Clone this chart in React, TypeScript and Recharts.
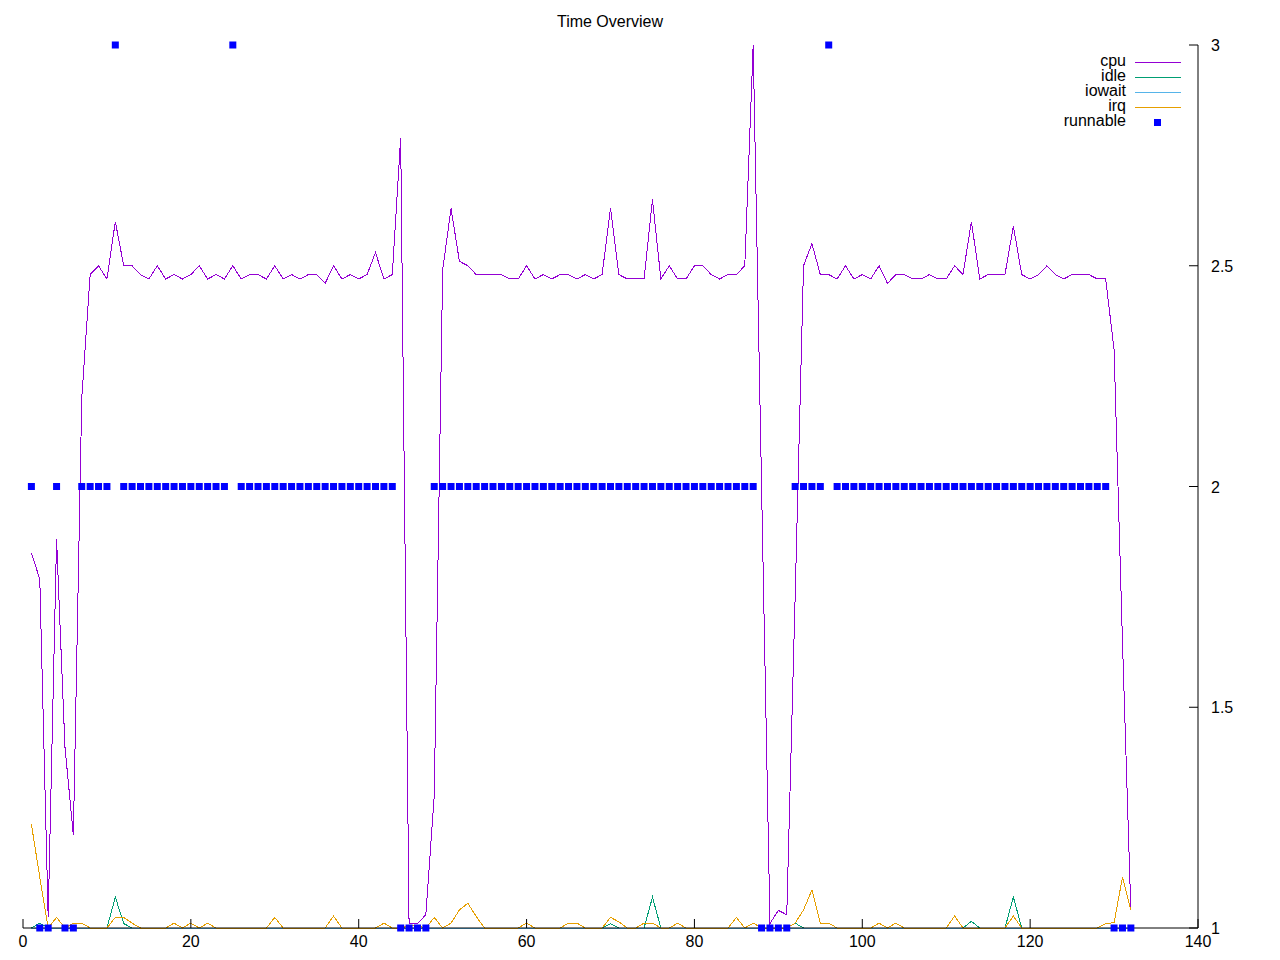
import { ComposedChart, Line, Scatter, XAxis, YAxis } from "recharts";

const FONT = "'Liberation Sans', Arial, sans-serif";

// sample values, one per time step starting at 1
const cpu = [
  1.85, 1.79, 1.025, 1.88, 1.41, 1.21, 2.2, 2.48, 2.5, 2.47,
  2.6, 2.5, 2.5, 2.48, 2.47, 2.5, 2.47, 2.48, 2.47, 2.48,
  2.5, 2.47, 2.48, 2.47, 2.5, 2.47, 2.48, 2.48, 2.47, 2.5,
  2.47, 2.48, 2.47, 2.48, 2.48, 2.46, 2.5, 2.47, 2.48, 2.47,
  2.48, 2.53, 2.47, 2.48, 2.79, 1.01, 1.01, 1.03, 1.3, 2.49,
  2.63, 2.51, 2.5, 2.48, 2.48, 2.48, 2.48, 2.47, 2.47, 2.5,
  2.47, 2.48, 2.47, 2.48, 2.48, 2.47, 2.48, 2.47, 2.48, 2.63,
  2.48, 2.47, 2.47, 2.47, 2.65, 2.47, 2.5, 2.47, 2.47, 2.5,
  2.5, 2.48, 2.47, 2.48, 2.48, 2.5, 3.0, 2.0, 1.01, 1.04,
  1.03, 1.75, 2.5, 2.55, 2.48, 2.48, 2.47, 2.5, 2.47, 2.48,
  2.47, 2.5, 2.46, 2.48, 2.48, 2.47, 2.47, 2.48, 2.47, 2.47,
  2.5, 2.48, 2.6, 2.47, 2.48, 2.48, 2.48, 2.59, 2.48, 2.47,
  2.48, 2.5, 2.48, 2.47, 2.48, 2.48, 2.48, 2.47, 2.47, 2.31,
  1.65, 1.04,
];

const idle = [
  1, 1.011, 1, 1, 1, 1, 1, 1, 1, 1,
  1.07, 1.01, 1, 1, 1, 1, 1, 1, 1, 1,
  1, 1, 1, 1, 1, 1, 1, 1, 1, 1,
  1, 1, 1, 1, 1, 1, 1, 1, 1, 1,
  1, 1, 1, 1, 1, 1, 1, 1, 1, 1,
  1, 1, 1, 1, 1, 1, 1, 1, 1, 1,
  1, 1, 1, 1, 1, 1, 1, 1, 1, 1.01,
  1, 1, 1, 1, 1.07, 1, 1, 1, 1, 1,
  1, 1, 1, 1, 1, 1, 1, 1, 1, 1,
  1, 1.011, 1, 1, 1, 1, 1, 1, 1, 1,
  1, 1, 1, 1, 1, 1, 1, 1, 1, 1,
  1, 1, 1.015, 1, 1, 1, 1, 1.07, 1, 1,
  1, 1, 1, 1, 1, 1, 1, 1, 1, 1,
  1, 1,
];

const iowait = [
  1, 1, 1, 1, 1, 1, 1, 1, 1, 1,
  1, 1, 1, 1, 1, 1, 1, 1, 1, 1,
  1, 1, 1, 1, 1, 1, 1, 1, 1, 1,
  1, 1, 1, 1, 1, 1, 1, 1, 1, 1,
  1, 1, 1, 1, 1, 1, 1, 1, 1, 1,
  1, 1, 1, 1, 1, 1, 1, 1, 1, 1,
  1, 1, 1, 1, 1, 1, 1, 1, 1, 1,
  1, 1, 1, 1, 1, 1, 1, 1, 1, 1,
  1, 1, 1, 1, 1, 1, 1, 1, 1, 1,
  1, 1, 1, 1, 1, 1, 1, 1, 1, 1,
  1, 1, 1, 1, 1, 1, 1, 1, 1, 1,
  1, 1, 1, 1, 1, 1, 1, 1, 1, 1,
  1, 1, 1, 1, 1, 1, 1, 1, 1, 1,
  1, 1,
];

const irq = [
  1.235, 1.115, 1, 1.024, 1, 1.011, 1.011, 1, 1, 1,
  1.024, 1.024, 1.011, 1, 1, 1, 1, 1.011, 1, 1.011,
  1, 1.011, 1, 1, 1, 1, 1, 1, 1, 1.024,
  1, 1, 1, 1, 1, 1, 1.027, 1, 1, 1,
  1, 1, 1.011, 1, 1, 1.005, 1.005, 1, 1.024, 1,
  1.011, 1.041, 1.056, 1.026, 1, 1, 1, 1, 1, 1.011,
  1, 1, 1, 1, 1.011, 1.011, 1, 1, 1, 1.024,
  1.014, 1, 1, 1.011, 1.011, 1, 1, 1.011, 1, 1,
  1, 1, 1, 1, 1.024, 1, 1.011, 1, 1, 1,
  1, 1.011, 1.041, 1.086, 1.011, 1.011, 1, 1, 1, 1,
  1, 1.011, 1, 1.011, 1, 1, 1, 1, 1, 1,
  1.027, 1, 1, 1, 1, 1, 1, 1.027, 1, 1,
  1, 1, 1, 1, 1, 1, 1, 1, 1.01, 1.012,
  1.115, 1.04,
];

const runnable = [
  2, 1, 1, 2, 1, 1, 2, 2, 2, 2,
  3, 2, 2, 2, 2, 2, 2, 2, 2, 2,
  2, 2, 2, 2, 3, 2, 2, 2, 2, 2,
  2, 2, 2, 2, 2, 2, 2, 2, 2, 2,
  2, 2, 2, 2, 1, 1, 1, 1, 2, 2,
  2, 2, 2, 2, 2, 2, 2, 2, 2, 2,
  2, 2, 2, 2, 2, 2, 2, 2, 2, 2,
  2, 2, 2, 2, 2, 2, 2, 2, 2, 2,
  2, 2, 2, 2, 2, 2, 2, 1, 1, 1,
  1, 2, 2, 2, 2, 3, 2, 2, 2, 2,
  2, 2, 2, 2, 2, 2, 2, 2, 2, 2,
  2, 2, 2, 2, 2, 2, 2, 2, 2, 2,
  2, 2, 2, 2, 2, 2, 2, 2, 2, 1,
  1, 1,
];

const xTicks = [0, 20, 40, 60, 80, 100, 120, 140];
const yTicks = [1, 1.5, 2, 2.5, 3];

const series = [
  { name: "cpu", color: "#9400d3" },
  { name: "idle", color: "#009e73" },
  { name: "iowait", color: "#56b4e9" },
  { name: "irq", color: "#e69f00" },
];

const data = cpu.map((v, i) => ({
  x: i + 1,
  cpu: v,
  idle: idle[i],
  iowait: iowait[i],
  irq: irq[i],
  runnable: runnable[i],
}));

function BottomTick({ x, y, payload }: any) {
  return (
    <g>
      <line x1={x} x2={x} y1={y} y2={y - 9} stroke="#000" />
      <text x={x} y={y + 19} textAnchor="middle" fontSize={16} fontFamily={FONT} fill="#000">
        {payload.value}
      </text>
    </g>
  );
}

function TopTick({ x, y }: any) {
  return <line x1={x} x2={x} y1={y} y2={y + 9} stroke="#000" />;
}

function RightTick({ x, y, payload }: any) {
  return (
    <g>
      <line x1={x} x2={x - 9} y1={y} y2={y} stroke="#000" />
      <text x={x + 13} y={y + 6} textAnchor="start" fontSize={16} fontFamily={FONT} fill="#000">
        {payload.value}
      </text>
    </g>
  );
}

function SquareDot({ cx, cy }: any) {
  if (cx == null || cy == null) return null;
  return <rect x={cx - 3.5} y={cy - 3.5} width={7} height={7} fill="#0000ff" />;
}

export default function App() {
  return (
    <div style={{ position: "absolute", left: 0, top: 0, width: 1280, height: 960, background: "#fff" }}>
      <ComposedChart width={1280} height={960} data={data} margin={{ top: 45, right: 22, bottom: 2, left: 23 }}>
        {series.map((s) => (
          <Line
            key={s.name}
            type="linear"
            dataKey={s.name}
            stroke={s.color}
            strokeWidth={1}
            shapeRendering="crispEdges"
            dot={false}
            activeDot={false}
            isAnimationActive={false}
          />
        ))}
        <XAxis
          dataKey="x"
          type="number"
          domain={[0, 140]}
          ticks={xTicks}
          height={30}
          tickSize={0}
          tickMargin={0}
          tickLine={false}
          axisLine={{ stroke: "#000" }}
          tick={BottomTick}
          interval={0}
        />
        <XAxis
          xAxisId="top"
          orientation="top"
          type="number"
          domain={[0, 140]}
          ticks={xTicks}
          height={0}
          tickSize={0}
          tickMargin={0}
          tickLine={false}
          axisLine={{ stroke: "#000" }}
          tick={TopTick}
          interval={0}
        />
        <YAxis
          orientation="right"
          type="number"
          domain={[1, 3]}
          ticks={yTicks}
          width={60}
          tickSize={0}
          tickMargin={0}
          tickLine={false}
          axisLine={{ stroke: "#000" }}
          tick={RightTick}
          interval={0}
        />
        <YAxis
          yAxisId="left"
          orientation="left"
          type="number"
          domain={[1, 3]}
          width={0}
          tick={false}
          tickLine={false}
          axisLine={{ stroke: "#000" }}
        />
        <Scatter dataKey="runnable" fill="#0000ff" shape={SquareDot} isAnimationActive={false} />
      </ComposedChart>
      <svg
        width={1280}
        height={960}
        style={{ position: "absolute", left: 0, top: 0, pointerEvents: "none" }}
        fontFamily={FONT}
        fontSize={16}
      >
        <text x={610} y={27} textAnchor="middle" fill="#000">
          Time Overview
        </text>
        {series.map((s, i) => (
          <g key={s.name}>
            <text x={1126} y={66 + i * 15} textAnchor="end" fill="#000">
              {s.name}
            </text>
            <line x1={1135} x2={1181} y1={62.5 + i * 15} y2={62.5 + i * 15} stroke={s.color} />
          </g>
        ))}
        <text x={1126} y={126} textAnchor="end" fill="#000">
          runnable
        </text>
        <rect x={1154} y={119} width={7} height={7} fill="#0000ff" />
      </svg>
    </div>
  );
}
